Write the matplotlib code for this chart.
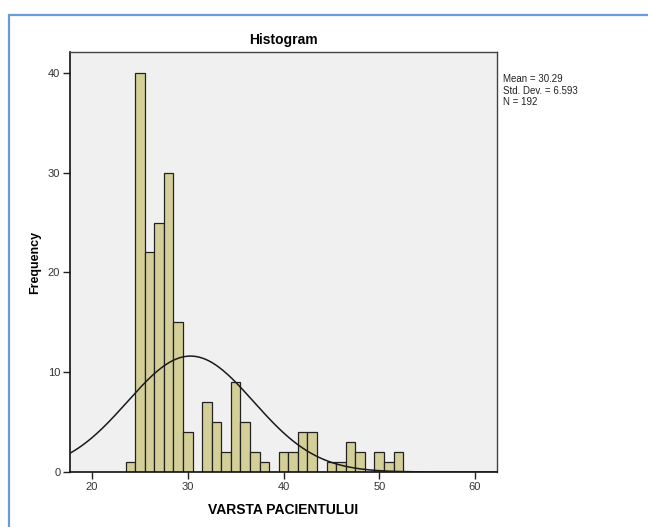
import numpy as np
import matplotlib.pyplot as plt
from matplotlib.patches import Rectangle

plt.rcParams['font.family'] = ['Liberation Sans', 'DejaVu Sans']

# age bins (centre of each 1-year bin) and counts
ages = [24, 25, 26, 27, 28, 29, 30, 31, 32, 33, 34, 35, 36, 37, 38, 39,
        40, 41, 42, 43, 44, 45, 46, 47, 48, 49, 50, 51, 52]
counts = [1, 40, 22, 25, 30, 15, 4, 0, 7, 5, 2, 9, 5, 2, 1, 0,
          2, 2, 4, 4, 0, 1, 1, 3, 2, 0, 2, 1, 2]

mean = 30.29
std = 6.593
n = 192

fig = plt.figure(figsize=(6.48, 5.27), dpi=100)
ax = fig.add_axes([0.108, 0.1044, 0.659, 0.797])
ax.set_facecolor('#f0f0f0')

ax.bar(ages, counts, width=1.0, color='#d4cf98', edgecolor='#222222', linewidth=0.9, zorder=2)

# normal curve, SPSS style (scaled to counts with bin width 1)
xs = np.linspace(17.7, 62.3, 400)
ys = n / (std * np.sqrt(2 * np.pi)) * np.exp(-0.5 * ((xs - mean) / std) ** 2)
ax.plot(xs, ys, color='#1a1a1a', linewidth=1.1, zorder=3)

ax.set_xlim(17.7, 62.3)
ax.set_ylim(0, 42.1)
ax.set_xticks([20, 30, 40, 50, 60])
ax.set_yticks([0, 10, 20, 30, 40])
ax.tick_params(axis='both', direction='out', length=5, width=1, labelsize=8,
               labelcolor='#333333', color='#222222', pad=2)

for side in ['left', 'bottom']:
    ax.spines[side].set_color('#111111')
    ax.spines[side].set_linewidth(1.2)
for side in ['top', 'right']:
    ax.spines[side].set_color('#444444')
    ax.spines[side].set_linewidth(1.0)

ax.set_xlabel('VARSTA PACIENTULUI', fontsize=10, fontweight='bold', labelpad=8)
ax.set_ylabel('Frequency', fontsize=9, fontweight='bold', labelpad=5)
fig.text(0.4375, 0.924, 'Histogram', ha='center', va='center', fontsize=10, fontweight='bold')

fig.text(0.776, 0.859, 'Mean = 30.29\nStd. Dev. = 6.593\nN = 192', ha='left', va='top',
         fontsize=7, color='#222222', linespacing=1.15)

# blue outline around the chart (like the SPSS output viewer), open at right and bottom
fig.patches.append(Rectangle((9 / 648, -0.1), 1.2, 1.1 - 15 / 527, transform=fig.transFigure,
                             fill=False, edgecolor='#6b9bd6', linewidth=1.6))

fig.savefig('out.png', dpi=100)
